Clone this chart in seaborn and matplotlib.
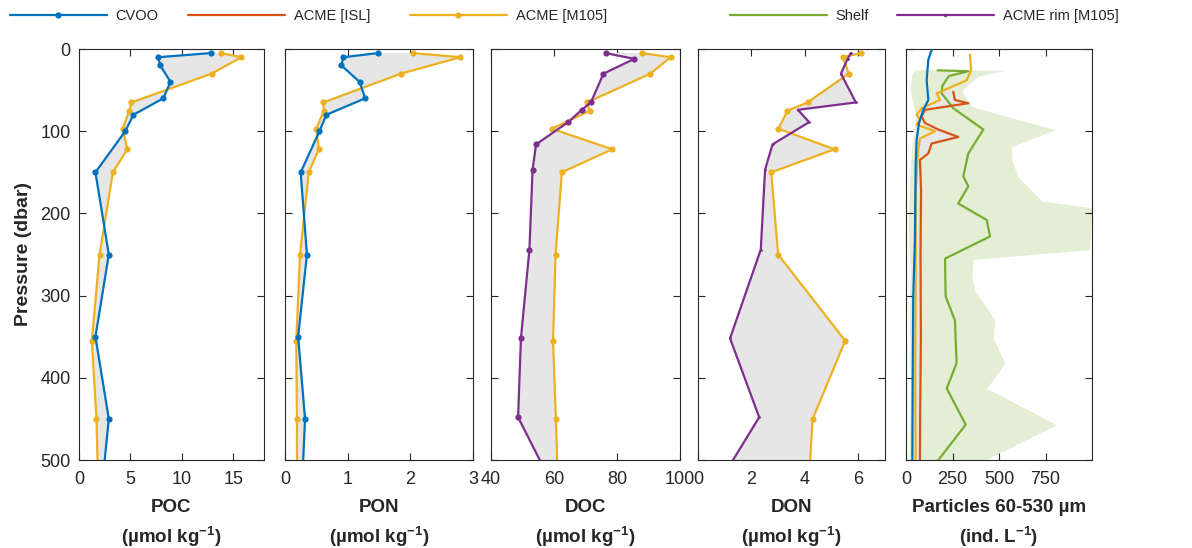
import matplotlib.pyplot as plt
import seaborn as sns
import numpy as np
from matplotlib.lines import Line2D

# --- discrete profiles (pressure in dbar) ---
cvoo_p = [5, 10, 20, 40, 60, 80, 100, 150, 250, 350, 450, 550]
cvoo_poc = [12.8, 7.7, 7.9, 8.9, 8.2, 5.3, 4.5, 1.6, 2.9, 1.6, 2.9, 2.1]
cvoo_pon = [1.48, 0.93, 0.90, 1.19, 1.28, 0.66, 0.55, 0.25, 0.35, 0.21, 0.32, 0.26]

m105_p = [5, 10, 30, 65, 75, 97, 122, 150, 250, 355, 450, 550]
m105_poc = [13.8, 15.8, 12.9, 5.1, 4.9, 4.25, 4.7, 3.3, 2.0, 1.25, 1.7, 1.9]
m105_pon = [2.04, 2.80, 1.85, 0.61, 0.62, 0.50, 0.54, 0.38, 0.24, 0.18, 0.19, 0.19]
m105_doc = [88, 97, 90.6, 70.5, 71.4, 59.3, 78.5, 62.5, 60.5, 59.7, 60.6, 61.4]
m105_don = [6.09, 5.43, 5.64, 4.1, 3.35, 3.01, 5.11, 2.74, 3.0, 5.51, 4.29, 4.11]

rim_p = [5, 12, 30, 65, 74, 89, 116, 147, 244, 352, 448, 550]
rim_doc = [76.4, 85.5, 75.7, 71.7, 68.8, 64.5, 54.3, 53.2, 52.2, 49.5, 48.6, 62.1]
rim_don = [5.72, 5.6, 5.35, 5.91, 3.74, 4.16, 2.79, 2.51, 2.35, 1.2, 2.29, 0.37]

# --- particle profiles (ind. L-1) ---
cvoo_part_p = [1, 13, 38, 62, 74, 90, 111, 140, 232, 301, 400, 500]
cvoo_part = [138, 120, 111, 120, 93, 70, 57, 52, 48, 39, 36, 34]

m105_part_p = [7, 26, 38, 54, 62, 72, 80, 86, 92, 100, 109, 123, 171, 300, 400, 500]
m105_part = [344, 350, 326, 165, 183, 84, 57, 75, 57, 156, 75, 66, 52, 52, 50, 52]

isl_part_p = [52, 62, 66, 74, 82, 90, 98, 107, 115, 127, 135, 171, 250, 350, 450, 500]
isl_part = [254, 263, 335, 102, 84, 102, 174, 281, 138, 120, 75, 81, 78, 80, 76, 75]

shelf_p = [26, 27, 33, 45, 54, 72, 98, 127, 155, 167, 188, 208, 228, 255, 301, 330, 382, 413, 457, 500]
shelf_mean = [170, 335, 230, 195, 192, 254, 416, 335, 308, 335, 281, 434, 452, 210, 213, 263, 272, 219, 321, 174]

shelf_env_p = [25, 26, 33, 51, 70, 78, 98, 119, 135, 156, 185, 193, 244, 256, 278, 294, 330, 352, 382, 413, 457, 500]
shelf_lo = [60, 45, 30, 22, 40, 50, 45, 30, 25, 20, 15, 12, 15, 20, 25, 20, 18, 22, 20, 25, 20, 15]
shelf_hi = [200, 532, 387, 299, 353, 478, 801, 568, 568, 604, 730, 998, 989, 362, 353, 371, 478, 469, 532, 434, 810, 425]

c_blue = "#0072BD"
c_red = "#D95319"
c_yel = "#EDB120"
c_purp = "#7E2F8E"
c_green = "#77AC30"
c_grey = "#E6E6E6"
c_ax = "#262626"

sns.set_theme(style="ticks")
plt.rcParams['font.family'] = ['Liberation Sans', 'DejaVu Sans']
plt.rcParams['mathtext.fontset'] = 'custom'
plt.rcParams['mathtext.rm'] = 'Liberation Sans:bold'
plt.rcParams['mathtext.default'] = 'rm'

W, H = 1192, 548
fig = plt.figure(figsize=(W / 100, H / 100), dpi=100)
boxes = [(79, 264), (285, 473), (491, 680), (698, 885), (906, 1092)]
top, bot = 49, 460
axes = [fig.add_axes([l / W, 1 - bot / H, (r - l) / W, (bot - top) / H]) for l, r in boxes]


def profile(ax, x, p, color, ms=4.5, marker='o'):
    sns.lineplot(x=x, y=p, sort=False, estimator=None, ax=ax, color=color,
                 linewidth=1.6, marker=marker, markersize=ms, markeredgewidth=0,
                 zorder=3)


def shade(ax, x1, p1, x2, p2, color=c_grey):
    ax.fill(np.concatenate([x1, x2[::-1]]), np.concatenate([p1, p2[::-1]]),
            color=color, lw=0, zorder=1)


a = np.asarray
# POC
ax = axes[0]
shade(ax, a(cvoo_poc), a(cvoo_p), a(m105_poc), a(m105_p))
profile(ax, m105_poc, m105_p, c_yel)
profile(ax, cvoo_poc, cvoo_p, c_blue)
ax.set_xlim(0, 18)
ax.set_xticks([0, 5, 10, 15])

# PON
ax = axes[1]
shade(ax, a(cvoo_pon), a(cvoo_p), a(m105_pon), a(m105_p))
profile(ax, m105_pon, m105_p, c_yel)
profile(ax, cvoo_pon, cvoo_p, c_blue)
ax.set_xlim(0, 3)
ax.set_xticks([0, 1, 2, 3])

# DOC
ax = axes[2]
shade(ax, a(rim_doc), a(rim_p), a(m105_doc), a(m105_p))
profile(ax, m105_doc, m105_p, c_yel)
profile(ax, rim_doc, rim_p, c_purp)
ax.set_xlim(40, 100)
ax.set_xticks([40, 60, 80, 100])

# DON
ax = axes[3]
shade(ax, a(rim_don), a(rim_p), a(m105_don), a(m105_p))
profile(ax, m105_don, m105_p, c_yel)
profile(ax, rim_don, rim_p, c_purp, ms=2)
ax.set_xlim(0, 7)
ax.set_xticks([0, 2, 4, 6])

# Particles
ax = axes[4]
ax.fill_betweenx(shelf_env_p, shelf_lo, shelf_hi, color=c_green, alpha=0.2, lw=0, zorder=0)
m_sel = [i for i, p in enumerate(m105_part_p) if p >= 52]
shade(ax, a(isl_part), a(isl_part_p), a(m105_part)[m_sel], a(m105_part_p)[m_sel])
profile(ax, shelf_mean, shelf_p, c_green, marker=None)
profile(ax, isl_part, isl_part_p, c_red, marker=None)
profile(ax, m105_part, m105_part_p, c_yel, marker=None)
profile(ax, cvoo_part, cvoo_part_p, c_blue, marker=None)
ax.set_xlim(0, 1000)
ax.set_xticks([0, 250, 500, 750])

xlabels = ["POC\n(µmol kg$^{-1}$)", "PON\n(µmol kg$^{-1}$)", "DOC\n(µmol kg$^{-1}$)",
           "DON\n(µmol kg$^{-1}$)", "Particles 60-530 µm\n(ind. L$^{-1}$)"]

for i, ax in enumerate(axes):
    ax.set_ylim(500, 0)
    ax.set_yticks(range(0, 501, 100))
    ax.tick_params(direction='in', top=True, right=True, length=5, width=0.8,
                   color=c_ax, labelcolor=c_ax, labelsize=13)
    ax.tick_params(axis='x', pad=8)
    ax.tick_params(axis='y', pad=6)
    for s in ax.spines.values():
        s.set_color(c_ax)
        s.set_linewidth(0.8)
    ax.set_xlabel(xlabels[i], fontweight='bold', fontsize=13.5, linespacing=1.5,
                  labelpad=8, color=c_ax)
    if i == 0:
        ax.set_ylabel("Pressure (dbar)", fontweight='bold', fontsize=14, labelpad=6, color=c_ax)
    else:
        ax.set_ylabel("")
        ax.tick_params(labelleft=False)

# legend: one entry per slot across the top
entries = [("CVOO", c_blue, 'o', 4.5, 10), ("ACME [ISL]", c_red, None, 0, 188),
           ("ACME [M105]", c_yel, 'o', 4.5, 410), ("Shelf", c_green, None, 0, 730),
           ("ACME rim [M105]", c_purp, 'o', 2.5, 897)]
for name, col, mk, ms, x0 in entries:
    h = Line2D([0], [0], color=col, lw=1.6, marker=mk, markersize=ms, markeredgewidth=0)
    fig.legend(handles=[h], labels=[name], loc='center left',
               bbox_to_anchor=(x0 / W, 1 - 16 / H), frameon=False, fontsize=10.5,
               handlelength=6.65, handletextpad=0.6, borderpad=0, borderaxespad=0)

fig.savefig("out.png", dpi=100)
